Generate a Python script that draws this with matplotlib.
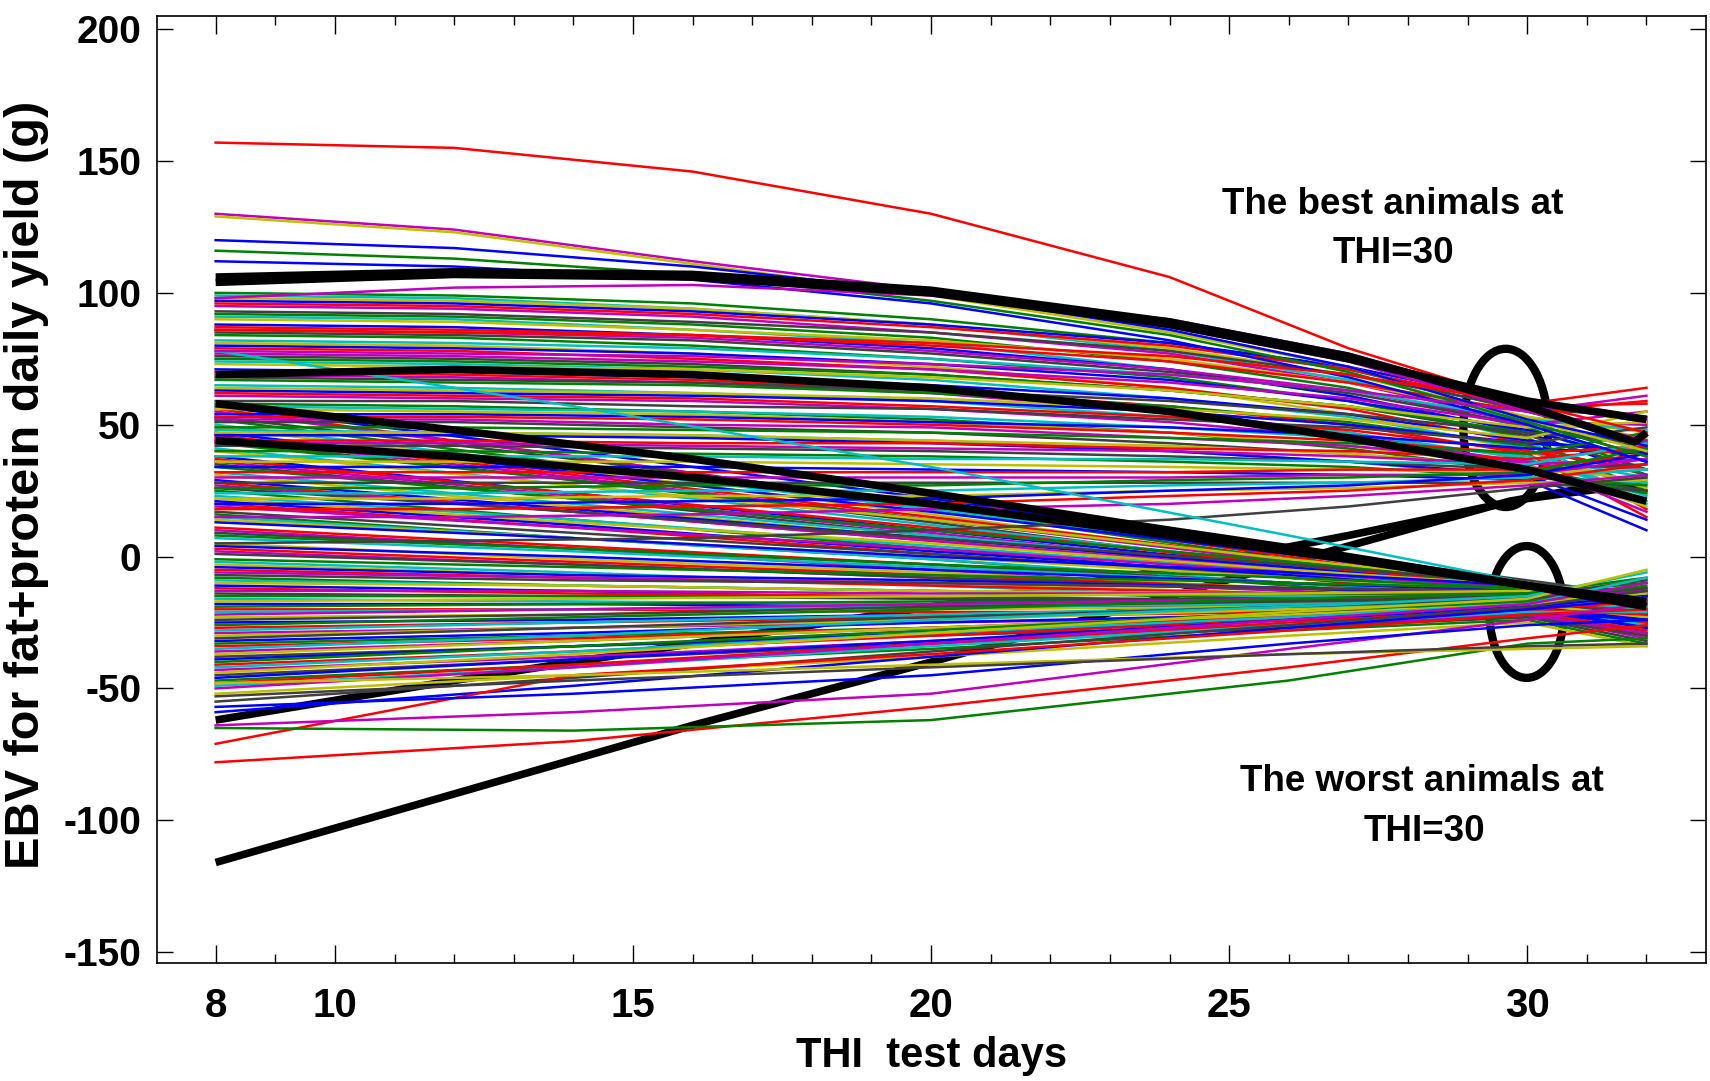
import matplotlib

matplotlib.use("Agg")
import matplotlib.pyplot as plt
from matplotlib.patches import Ellipse

plt.rcParams["font.family"] = ["Liberation Sans", "DejaVu Sans"]
plt.rcParams["axes.unicode_minus"] = False

UP_THI = [8, 12, 16, 20, 24, 27, 30, 32]
LOW_THI = [8, 14, 20, 26, 30, 32]

# animals whose curves end in the upper bundle (EBV, g)
upper_top = [
    (157, 155, 146, 130, 106, 79, 58, 47),
    (130, 124, 112, 101, 87, 74, 55, 44),
    (129, 123, 111, 99, 85, 72, 52, 40),
    (120, 117, 110, 100, 86, 72, 52, 42),
    (116, 113, 107, 97, 84, 70, 51, 38),
    (112, 110, 105, 96, 82, 68, 50, 36),
    (86, 85, 84, 81, 76, 69, 58, 64),
    (78, 77, 76, 73, 69, 63, 55, 61),
    (98, 102, 103, 99, 90, 77, 58, 52),
]
upper_top_colors = ["r", "m", "y", "b", "g", "b", "r", "m", "m"]

upper_curves = [
    (100, 99, 96, 90, 81, 71, 55, 43),
    (99, 98, 94, 88, 78, 67, 50, 36),
    (98, 97, 94, 88, 79, 69, 53, 47),
    (97, 96, 93, 88, 81, 72, 58, 51),
    (96, 95, 92, 87, 80, 71, 57, 58),
    (95, 94, 91, 85, 77, 66, 51, 38),
    (93, 92, 89, 85, 78, 69, 56, 53),
    (92, 91, 88, 83, 74, 64, 49, 33),
    (91, 90, 86, 81, 71, 61, 44, 20),
    (90, 89, 86, 82, 75, 66, 53, 45),
    (88, 87, 84, 79, 71, 61, 47, 31),
    (87, 86, 84, 80, 74, 66, 55, 59),
    (86, 85, 83, 78, 71, 63, 51, 50),
    (85, 84, 82, 77, 70, 62, 50, 41),
    (84, 83, 80, 75, 68, 59, 45, 25),
    (82, 81, 79, 75, 69, 63, 52, 48),
    (81, 80, 77, 72, 64, 54, 40, 26),
    (80, 79, 77, 73, 67, 59, 48, 36),
    (79, 78, 75, 71, 64, 56, 43, 18),
    (77, 76, 74, 71, 66, 60, 50, 55),
    (76, 75, 73, 69, 63, 57, 46, 33),
    (75, 74, 72, 69, 63, 57, 47, 44),
    (74, 73, 71, 67, 60, 53, 41, 21),
    (73, 72, 71, 68, 63, 57, 49, 51),
    (71, 70, 68, 65, 60, 54, 44, 39),
    (70, 69, 67, 63, 57, 50, 39, 15),
    (69, 68, 66, 62, 55, 47, 35, 17),
    (68, 67, 66, 63, 59, 54, 47, 43),
    (67, 66, 65, 62, 57, 51, 42, 31),
    (65, 64, 62, 59, 53, 47, 37, 23),
    (64, 63, 62, 60, 56, 52, 45, 55),
    (63, 62, 61, 59, 55, 50, 43, 40),
    (62, 61, 60, 57, 53, 48, 40, 33),
    (61, 60, 59, 56, 51, 45, 36, 28),
    (59, 59, 57, 56, 52, 49, 43, 49),
    (58, 57, 55, 52, 47, 41, 32, 24),
    (57, 56, 55, 53, 49, 45, 38, 30),
    (56, 55, 54, 51, 47, 42, 34, 19),
    (54, 54, 53, 51, 49, 46, 41, 39),
    (53, 53, 52, 50, 47, 44, 39, 42),
    (52, 52, 50, 49, 45, 42, 36, 33),
    (51, 51, 49, 47, 43, 39, 33, 25),
    (49, 49, 48, 47, 45, 43, 39, 47),
    (48, 47, 46, 44, 40, 36, 30, 28),
    (47, 47, 46, 44, 42, 39, 34, 29),
    (46, 46, 45, 43, 40, 36, 31, 14),
    (44, 44, 43, 43, 41, 40, 37, 41),
    (43, 43, 42, 41, 40, 38, 35, 37),
    (42, 42, 41, 40, 38, 36, 33, 35),
    (40, 40, 39, 38, 36, 34, 30, 27),
    (38, 38, 38, 37, 37, 36, 35, 43),
    (36, 36, 36, 35, 34, 33, 32, 33),
    (34, 34, 34, 33, 32, 31, 29, 10),
    (32, 32, 32, 32, 32, 33, 33, 39),
    (30, 30, 30, 30, 30, 31, 31, 37),
    (28, 28, 28, 28, 28, 28, 28, 25),
    (26, 26, 27, 27, 29, 30, 32, 41),
    (24, 24, 25, 25, 27, 28, 30, 33),
    (22, 22, 23, 23, 25, 26, 28, 29),
    (20, 20, 21, 22, 25, 27, 31, 39),
    (18, 18, 19, 20, 23, 25, 29, 35),
    (15, 15, 16, 18, 20, 23, 27, 31),
    (5, 6, 7, 10, 14, 19, 26, 30),
]

# animals whose curves end in the lower bundle (EBV, g)
lower_curves = [
    (57, 40, 22, 3, -10, -17),
    (56, 38, 19, 0, -13, -21),
    (55, 38, 19, 1, -12, -20),
    (53, 37, 20, 3, -9, -15),
    (52, 35, 18, -1, -13, -22),
    (50, 34, 18, 1, -11, -18),
    (49, 33, 16, -2, -14, -24),
    (47, 32, 17, 1, -10, -16),
    (46, 31, 15, -1, -12, -21),
    (45, 30, 14, -2, -13, -20),
    (44, 29, 13, -4, -15, -25),
    (43, 29, 14, -1, -11, -19),
    (41, 27, 12, -3, -13, -22),
    (40, 27, 14, -1, -10, -15),
    (38, 24, 10, -4, -14, -23),
    (37, 24, 11, -3, -12, -20),
    (36, 23, 9, -5, -15, -22),
    (35, 22, 8, -6, -16, -26),
    (34, 22, 10, -2, -11, -17),
    (32, 20, 8, -4, -13, -21),
    (31, 19, 7, -6, -15, -24),
    (29, 18, 7, -4, -12, -18),
    (28, 17, 6, -6, -14, -22),
    (27, 17, 6, -5, -12, -16),
    (26, 17, 7, -3, -10, -14),
    (25, 14, 3, -8, -16, -25),
    (23, 14, 4, -6, -13, -19),
    (22, 13, 5, -5, -11, -16),
    (21, 12, 2, -7, -14, -20),
    (20, 11, 1, -8, -15, -23),
    (19, 11, 3, -6, -12, -17),
    (17, 9, 1, -8, -14, -21),
    (16, 7, -1, -11, -17, -26),
    (15, 7, -1, -10, -16, -24),
    (14, 7, 0, -8, -13, -18),
    (13, 7, 0, -6, -11, -14),
    (11, 4, -3, -10, -15, -22),
    (10, 3, -5, -13, -18, -27),
    (9, 3, -3, -10, -14, -17),
    (8, 3, -3, -8, -12, -16),
    (7, 2, -4, -10, -14, -19),
    (5, -1, -6, -12, -16, -23),
    (4, 0, -5, -10, -13, -15),
    (3, -2, -7, -12, -15, -21),
    (2, -3, -8, -13, -17, -24),
    (1, -3, -8, -12, -15, -20),
    (-1, -4, -7, -10, -12, -13),
    (-2, -6, -11, -16, -19, -28),
    (-3, -7, -10, -14, -17, -24),
    (-4, -7, -9, -12, -14, -17),
    (-5, -8, -11, -14, -16, -21),
    (-6, -8, -10, -12, -13, -14),
    (-7, -9, -10, -12, -13, -12),
    (-8, -11, -13, -16, -18, -25),
    (-9, -11, -13, -15, -16, -20),
    (-10, -11, -13, -14, -15, -18),
    (-11, -13, -16, -18, -20, -29),
    (-12, -14, -15, -17, -18, -25),
    (-13, -13, -14, -14, -14, -13),
    (-14, -15, -16, -16, -17, -22),
    (-15, -15, -15, -14, -14, -10),
    (-16, -17, -18, -18, -19, -26),
    (-17, -16, -15, -14, -13, -9),
    (-18, -18, -19, -19, -19, -27),
    (-19, -18, -17, -17, -16, -18),
    (-20, -20, -21, -21, -21, -30),
    (-21, -20, -19, -18, -17, -16),
    (-22, -20, -18, -16, -15, -14),
    (-23, -22, -20, -19, -18, -23),
    (-24, -22, -19, -17, -15, -9),
    (-25, -24, -22, -21, -20, -27),
    (-26, -23, -20, -16, -14, -8),
    (-27, -25, -23, -21, -20, -24),
    (-28, -25, -22, -19, -17, -19),
    (-29, -27, -25, -23, -22, -31),
    (-30, -27, -24, -20, -18, -14),
    (-31, -27, -23, -19, -16, -12),
    (-32, -29, -25, -22, -19, -24),
    (-33, -30, -27, -24, -22, -29),
    (-34, -31, -27, -23, -21, -28),
    (-35, -30, -24, -19, -15, -6),
    (-36, -32, -27, -22, -19, -16),
    (-37, -32, -27, -22, -18, -17),
    (-38, -34, -30, -26, -23, -32),
    (-39, -34, -29, -24, -21, -24),
    (-40, -34, -28, -21, -17, -11),
    (-41, -36, -30, -24, -20, -22),
    (-42, -36, -29, -23, -18, -8),
    (-43, -38, -32, -26, -22, -29),
    (-44, -37, -29, -21, -16, -5),
    (-45, -39, -33, -27, -23, -30),
    (-46, -39, -32, -24, -19, -15),
    (-47, -41, -35, -28, -24, -33),
    (-48, -41, -33, -25, -20, -17),
    (-49, -42, -34, -26, -21, -21),
    (-50, -42, -33, -24, -18, -10),
    (-52, -45, -38, -30, -25, -34),
    (-55, -46, -36, -26, -19, -13),
    (-59, -49, -38, -27, -20, -16),
]

lower_extra = [
    (78, 57, 34, 8, -10, -16),
    (-71, -45, -37, -28, -22, -20),
    (-78, -70, -57, -42, -31, -26),
    (-65, -66, -62, -47, -33, -31),
    (-64, -59, -52, -35, -24, -18),
    (-57, -52, -45, -33, -26, -24),
    (-48, -45, -41, -37, -35, -34),
    (-53, -47, -42, -37, -34, -33),
]
lower_extra_colors = ["c", "r", "r", "g", "m", "b", "y", "k"]

# highlighted animals (thick black curves); the two rising ones sit under the bundle
black_under_thi = [
    [8, 12, 16, 20, 24, 27, 30, 32],
    [8, 12, 16, 20, 24, 27, 29.7, 32],
]
black_under_ebv = [
    [-62, -47, -33, -19, -5, 8, 22, 28],
    [-116, -90, -64, -40, -15, 4, 21, 30],
]
black_thi = [
    [8, 12, 16, 20, 24, 27, 30, 32],
    [8, 12, 16, 20, 24, 27, 30, 31.8, 32],
    [8, 12, 16, 20, 24, 27, 30, 32],
    [8, 12, 16, 20, 24, 27, 30, 32],
    [8, 12, 16, 20, 24, 27, 30, 32],
]
black_ebv = [
    [104, 107, 106, 100, 88, 75, 59, 52],
    [106, 108, 107, 101, 89, 76, 57, 43.5, 47],
    [69, 71, 69, 64, 55, 45, 33, 21],
    [58, 48, 37, 24, 10, 0, -11, -19],
    [44, 38, 30, 20, 8, -1, -11, -17],
]

# MATLAB-like default line colours
COLORS = {
    "b": "#0000FF",
    "g": "#008000",
    "r": "#FF0000",
    "c": "#00BFBF",
    "m": "#BF00BF",
    "y": "#BFBF00",
    "k": "#404040",
}
CYCLE = ["b", "g", "r", "c", "m", "y", "k"]

fig = plt.figure(figsize=(17.1, 10.81), dpi=100)
ax = fig.add_axes([0.0916, 0.1092, 0.9061, 0.876])

for xs, ys in zip(black_under_thi, black_under_ebv):
    ax.plot(xs, ys, color="black", lw=5.5, solid_capstyle="butt")

thin = 1.8
# interleave the two bundles so colours mix like the original
n = max(len(upper_curves), len(lower_curves))
k = 0
for i in range(n):
    if i < len(lower_curves):
        ax.plot(LOW_THI, lower_curves[i], color=COLORS[CYCLE[k % 7]], lw=thin)
        k += 1
    if i < len(upper_curves):
        ax.plot(UP_THI, upper_curves[i], color=COLORS[CYCLE[k % 7]], lw=thin)
        k += 1

for ys, c in zip(lower_extra, lower_extra_colors):
    ax.plot(LOW_THI, ys, color=COLORS[c], lw=thin)
for ys, c in zip(upper_top, upper_top_colors):
    ax.plot(UP_THI, ys, color=COLORS[c], lw=thin)

for xs, ys in zip(black_thi, black_ebv):
    ax.plot(xs, ys, color="black", lw=5.5, solid_capstyle="butt")

ax.add_patch(Ellipse((29.64, 48.8), 1.42, 60, fill=False, ec="black", lw=6))
ax.add_patch(Ellipse((29.99, -21), 1.25, 50, fill=False, ec="black", lw=6))

ax.set_xlim(7.01, 33.0)
ax.set_ylim(-154.1, 205)
ax.set_xticks([8, 10, 15, 20, 25, 30])
ax.set_xticks(range(8, 33), minor=True)
ax.set_yticks(range(-150, 201, 50))

ax.tick_params(which="both", direction="in", top=True, right=True, width=1.0)
ax.tick_params(axis="x", which="major", length=13, pad=17, labelsize=29)
ax.tick_params(axis="x", which="minor", length=6.5)
ax.tick_params(axis="y", which="major", length=11.5, pad=11, labelsize=28)
for lab in ax.get_xticklabels() + ax.get_yticklabels():
    lab.set_fontweight("bold")
for sp in ax.spines.values():
    sp.set_linewidth(1.2)

txt = dict(ha="center", va="center", fontsize=26.5, fontweight="bold")
ax.text(27.75, 133.4, "The best animals at", **txt)
ax.text(27.75, 114.8, "THI=30", **txt)
ax.text(28.24, -85.4, "The worst animals at", **txt)
ax.text(28.28, -104.4, "THI=30", **txt)

fig.text(0.5445, 0.013, "THI  test days", ha="center", va="baseline",
         fontsize=30, fontweight="bold")
fig.text(0.0155, 0.551, "EBV for fat+protein daily yield (g)", ha="center",
         va="center", rotation=90, fontsize=35, fontweight="bold")

fig.savefig("out.png", dpi=100)
